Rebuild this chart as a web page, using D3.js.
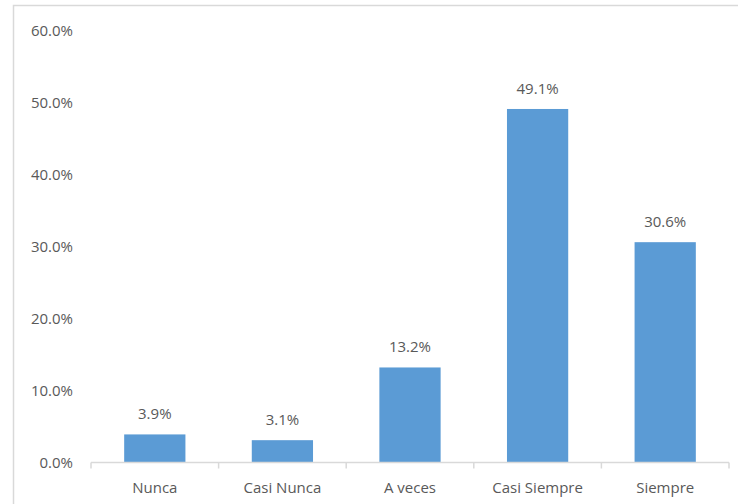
<!DOCTYPE html>
<head>
  <meta charset="utf-8" />
  <script src="https://d3js.org/d3.v7.min.js"></script>
  <style>
    body { margin: 0; background: #fff; }
    svg { display: block; font-family: "Open Sans", "Noto Sans", sans-serif; }
    .lbl { fill: #595959; font-size: 15px; }
  </style>
</head>
<body>
  <svg width="738" height="504"></svg>
  <script>
    var categories = ["Nunca", "Casi Nunca", "A veces", "Casi Siempre", "Siempre"];
    var values = [3.9, 3.1, 13.2, 49.1, 30.6];
    var yTicks = [0, 10, 20, 30, 40, 50, 60];

    var svg = d3.select("svg");

    // chart frame (only top and left edges fall inside the picture)
    svg.append("rect")
      .attr("x", 13.5).attr("y", 5.5)
      .attr("width", 900).attr("height", 700)
      .attr("fill", "none")
      .attr("stroke", "#d9d9d9")
      .attr("stroke-width", 1.5);

    var x = d3.scaleBand()
      .domain(categories)
      .range([91, 729])
      .paddingInner(0.52)
      .paddingOuter(0.26);

    var y = d3.scaleLinear().domain([0, 60]).range([462.5, 30.5]);

    // y labels
    svg.selectAll(".ylab")
      .data(yTicks)
      .enter()
      .append("text")
      .attr("class", "lbl")
      .attr("x", 73)
      .attr("y", function (d) { return y(d); })
      .attr("dy", "0.35em")
      .attr("text-anchor", "end")
      .text(function (d) { return d.toFixed(1) + "%"; });

    // bars
    svg.selectAll(".bar")
      .data(values)
      .enter()
      .append("rect")
      .attr("x", function (d, i) { return x(categories[i]); })
      .attr("y", function (d) { return y(d); })
      .attr("width", x.bandwidth())
      .attr("height", function (d) { return y(0) - y(d); })
      .attr("fill", "#5b9bd5");

    // value labels
    svg.selectAll(".val")
      .data(values)
      .enter()
      .append("text")
      .attr("class", "lbl")
      .attr("x", function (d, i) { return x(categories[i]) + x.bandwidth() / 2; })
      .attr("y", function (d) { return y(d) - 15; })
      .attr("text-anchor", "middle")
      .text(function (d) { return d.toFixed(1) + "%"; });

    // x axis line with ticks between categories
    var x0 = 91;
    svg.append("line")
      .attr("x1", x0).attr("x2", 729)
      .attr("y1", y(0)).attr("y2", y(0))
      .attr("stroke", "#d9d9d9").attr("stroke-width", 1.5);
    d3.range(categories.length + 1).forEach(function (i) {
      var tx = x0 + i * (729 - x0) / categories.length;
      svg.append("line")
        .attr("x1", tx).attr("x2", tx)
        .attr("y1", y(0)).attr("y2", y(0) + 6)
        .attr("stroke", "#d9d9d9").attr("stroke-width", 1.5);
    });

    svg.selectAll(".xlab")
      .data(categories)
      .enter()
      .append("text")
      .attr("class", "lbl")
      .attr("x", function (d) { return x(d) + x.bandwidth() / 2; })
      .attr("y", 493)
      .attr("text-anchor", "middle")
      .text(function (d) { return d; });
  </script>
</body>
